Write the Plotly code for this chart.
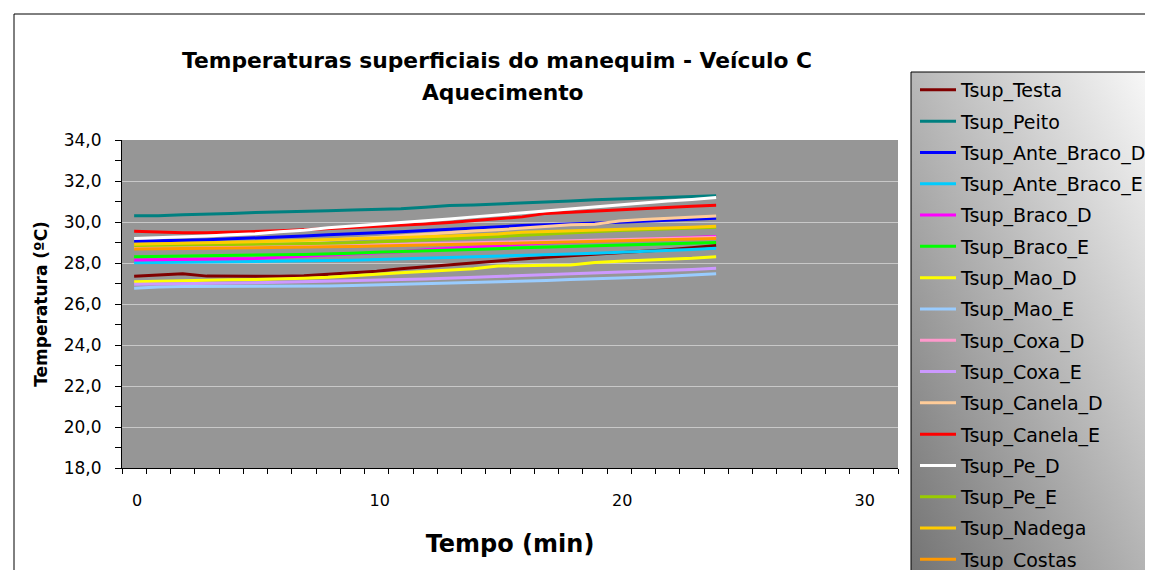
import base64
import plotly.graph_objects as go

# ---------------- data ----------------
tempo = list(range(0, 25))

tsup_testa = [27.35, 27.42, 27.48, 27.36, 27.35, 27.35, 27.35, 27.38, 27.45, 27.50, 27.60, 27.72, 27.82,
              27.92, 28.00, 28.10, 28.20, 28.28, 28.35, 28.42, 28.50, 28.58, 28.65, 28.75, 28.85]
tsup_peito = [30.31, 30.31, 30.35, 30.40, 30.42, 30.46, 30.48, 30.52, 30.55, 30.58, 30.60, 30.65, 30.72,
              30.80, 30.83, 30.87, 30.93, 30.97, 31.02, 31.08, 31.12, 31.17, 31.20, 31.24, 31.28]
tsup_ante_braco_d = [29.06, 29.08, 29.10, 29.14, 29.18, 29.22, 29.27, 29.32, 29.38, 29.42, 29.46, 29.52, 29.58,
                     29.65, 29.72, 29.78, 29.83, 29.87, 29.90, 29.94, 29.99, 30.04, 30.09, 30.13, 30.18]
tsup_ante_braco_e = [28.01, 28.02, 28.04, 28.05, 28.06, 28.07, 28.08, 28.10, 28.12, 28.14, 28.17, 28.20, 28.23,
                     28.27, 28.31, 28.35, 28.38, 28.41, 28.44, 28.48, 28.52, 28.56, 28.60, 28.66, 28.72]
tsup_braco_d = [28.15, 28.16, 28.18, 28.19, 28.20, 28.22, 28.28, 28.33, 28.38, 28.43, 28.48, 28.55, 28.65,
                28.73, 28.78, 28.85, 28.92, 28.97, 29.02, 29.07, 29.12, 29.16, 29.20, 29.25, 29.29]
tsup_braco_e = [28.31, 28.32, 28.33, 28.34, 28.35, 28.38, 28.40, 28.42, 28.44, 28.48, 28.52, 28.55, 28.58,
                28.62, 28.66, 28.70, 28.74, 28.77, 28.80, 28.84, 28.88, 28.90, 28.93, 28.96, 29.00]
tsup_mao_d = [27.09, 27.12, 27.14, 27.16, 27.18, 27.20, 27.22, 27.26, 27.30, 27.36, 27.45, 27.52, 27.58,
              27.65, 27.72, 27.85, 27.88, 27.89, 27.90, 28.03, 28.08, 28.12, 28.17, 28.23, 28.31]
tsup_mao_e = [26.77, 26.83, 26.85, 26.85, 26.86, 26.86, 26.86, 26.87, 26.88, 26.90, 26.93, 26.96, 26.98,
              27.00, 27.04, 27.08, 27.10, 27.15, 27.19, 27.22, 27.26, 27.30, 27.35, 27.42, 27.48]
tsup_coxa_d = [28.76, 28.77, 28.78, 28.79, 28.80, 28.82, 28.83, 28.84, 28.86, 28.88, 28.90, 28.92, 28.93,
               28.95, 28.97, 29.00, 29.03, 29.06, 29.09, 29.12, 29.15, 29.18, 29.20, 29.23, 29.26]
tsup_coxa_e = [26.96, 26.97, 26.98, 27.00, 27.02, 27.04, 27.06, 27.08, 27.10, 27.13, 27.16, 27.19, 27.22,
               27.26, 27.30, 27.35, 27.40, 27.43, 27.46, 27.50, 27.53, 27.57, 27.62, 27.68, 27.74]
tsup_canela_d = [28.83, 28.85, 28.87, 28.90, 28.93, 28.96, 29.00, 29.05, 29.10, 29.18, 29.25, 29.33, 29.42,
                 29.50, 29.56, 29.62, 29.70, 29.78, 29.86, 29.89, 30.05, 30.12, 30.18, 30.24, 30.29]
tsup_canela_e = [29.55, 29.50, 29.48, 29.48, 29.50, 29.53, 29.57, 29.62, 29.67, 29.72, 29.78, 29.84, 29.90,
                 29.98, 30.08, 30.18, 30.25, 30.42, 30.48, 30.55, 30.62, 30.67, 30.72, 30.77, 30.82]
tsup_pe_d = [29.20, 29.23, 29.27, 29.32, 29.38, 29.43, 29.52, 29.60, 29.72, 29.80, 29.88, 29.97, 30.05,
             30.15, 30.25, 30.35, 30.45, 30.55, 30.65, 30.73, 30.82, 30.92, 31.02, 31.10, 31.20]
tsup_pe_e = [28.85, 28.86, 28.87, 28.88, 28.89, 28.90, 28.92, 28.94, 28.96, 28.99, 29.02, 29.07, 29.12,
             29.18, 29.24, 29.30, 29.36, 29.42, 29.48, 29.53, 29.58, 29.62, 29.66, 29.70, 29.74]
tsup_nadega = [28.91, 28.93, 28.95, 28.97, 29.00, 29.04, 29.07, 29.10, 29.14, 29.18, 29.22, 29.25, 29.28,
               29.32, 29.36, 29.42, 29.50, 29.53, 29.56, 29.59, 29.62, 29.66, 29.70, 29.74, 29.79]
tsup_costas = [28.68, 28.69, 28.70, 28.71, 28.73, 28.75, 28.76, 28.77, 28.79, 28.81, 28.83, 28.85, 28.86,
               28.88, 28.90, 28.93, 28.97, 29.00, 29.03, 29.07, 29.10, 29.13, 29.15, 29.18, 29.20]

series_names = ["Tsup_Testa", "Tsup_Peito", "Tsup_Ante_Braco_D", "Tsup_Ante_Braco_E", "Tsup_Braco_D",
                "Tsup_Braco_E", "Tsup_Mao_D", "Tsup_Mao_E", "Tsup_Coxa_D", "Tsup_Coxa_E", "Tsup_Canela_D",
                "Tsup_Canela_E", "Tsup_Pe_D", "Tsup_Pe_E", "Tsup_Nadega", "Tsup_Costas"]
series_values = [tsup_testa, tsup_peito, tsup_ante_braco_d, tsup_ante_braco_e, tsup_braco_d, tsup_braco_e,
                 tsup_mao_d, tsup_mao_e, tsup_coxa_d, tsup_coxa_e, tsup_canela_d, tsup_canela_e, tsup_pe_d,
                 tsup_pe_e, tsup_nadega, tsup_costas]
series_colors = ["#800000", "#008080", "#0000FF", "#00CCFF", "#FF00FF", "#00FF00", "#FFFF00", "#99CCFF",
                 "#FF99CC", "#CC99FF", "#FFCC99", "#FF0000", "#FFFFFF", "#99CC00", "#FFCC00", "#FF9900"]

x_tick_values = [0, 10, 20, 30]
y_range = [18, 34]

title_line1 = "Temperaturas superficiais do manequim - Veículo C"
title_line2 = "Aquecimento"
x_title = "Tempo (min)"
y_title = "Temperatura (ºC)"

# ---------------- layout geometry (page pixels) ----------------
OFF = 8                      # default page body margin
W, H = 1153 - OFF, 570 - OFF  # figure size so the page has no scrollbars
L, R, T, B = 122, 898, 140, 468   # plot area in page pixels


def px(x):
    return (x - L) / (R - L)


def py(y):
    return (B - y) / (B - T)


FONT = "DejaVu Sans"

fig = go.Figure()
for name, vals, col in zip(series_names, series_values, series_colors):
    fig.add_trace(go.Scatter(x=tempo, y=vals, mode="lines", name=name, legendgroup=name,
                             line=dict(color=col, width=3)))

# gradient background for legend
svg = ('<svg xmlns="http://www.w3.org/2000/svg" width="100" height="100" preserveAspectRatio="none">'
       '<defs><linearGradient id="g" x1="0" y1="1" x2="1" y2="0">'
       '<stop offset="0" stop-color="#707070"/><stop offset="1" stop-color="#ffffff"/>'
       '</linearGradient></defs><rect width="100" height="100" fill="url(#g)"/></svg>')
svg_uri = "data:image/svg+xml;base64," + base64.b64encode(svg.encode()).decode()

LG_X0, LG_Y0, LG_X1, LG_Y1 = 911, 72, 1175, 600

fig.update_layout(
    width=W, height=H,
    margin=dict(l=L - OFF, r=W - (R - OFF), t=T - OFF, b=H - (B - OFF), pad=0, autoexpand=False),
    paper_bgcolor="white",
    plot_bgcolor="#969696",
    separators=",.",
    font=dict(family=FONT, color="black"),
    showlegend=True,
    legend=dict(x=px(LG_X0 + 4), y=py(LG_Y0 - 1), xanchor="left", yanchor="top",
                bgcolor="rgba(0,0,0,0)", borderwidth=0, maxheight=700,
                font=dict(family=FONT, size=19, color="black"),
                tracegroupgap=3.6, itemwidth=36, traceorder="grouped"),
    xaxis=dict(range=[-0.5, 31.5], tickmode="array", tickvals=x_tick_values,
               ticks="", showline=True, linecolor="black", linewidth=1,
               showgrid=False, zeroline=False,
               tickfont=dict(family=FONT, size=16, color="black"),
               ticklabelstandoff=18, ticklabelshift=3,
               minor=dict(tickmode="linear", tick0=-0.5, dtick=1, ticks="outside",
                          ticklen=5, tickcolor="black", tickwidth=1, showgrid=False),
               title=dict(text="<b>%s</b>" % x_title, font=dict(family=FONT, size=24, color="black"),
                          standoff=25)),
    yaxis=dict(range=y_range, tickmode="linear", tick0=18, dtick=2, tickformat=".1f",
               ticks="outside", ticklen=6, tickcolor="black", showline=True, linecolor="black",
               linewidth=1, showgrid=True, gridcolor="#C8C8C8", gridwidth=1, zeroline=False,
               tickfont=dict(family=FONT, size=17, color="black"),
               ticklabelstandoff=10,
               minor=dict(tickmode="linear", tick0=18, dtick=1, ticks="outside", ticklen=6,
                          tickcolor="black", tickwidth=1, showgrid=False),
               title=dict(text="<b>%s</b>" % y_title, font=dict(family=FONT, size=17, color="black"),
                          standoff=11)),
    images=[dict(source=svg_uri, xref="paper", yref="paper", x=px(LG_X0), y=py(LG_Y0),
                 sizex=px(LG_X1) - px(LG_X0), sizey=py(LG_Y0) - py(LG_Y1),
                 xanchor="left", yanchor="top", sizing="stretch", layer="above")],
    shapes=[
        dict(type="rect", xref="paper", yref="paper", x0=px(14), x1=px(1200), y0=py(620), y1=py(14),
             line=dict(color="black", width=1), fillcolor="rgba(0,0,0,0)", layer="below"),
        dict(type="rect", xref="paper", yref="paper", x0=px(LG_X0), x1=px(LG_X1), y0=py(LG_Y1), y1=py(LG_Y0),
             line=dict(color="black", width=1), fillcolor="rgba(0,0,0,0)", layer="above"),
    ],
    annotations=[
        dict(text="<b>%s</b>" % title_line1, xref="paper", yref="paper", x=px(497), y=py(60),
             xanchor="center", yanchor="middle", showarrow=False,
             font=dict(family=FONT, size=21.8, color="black")),
        dict(text="<b>%s</b>" % title_line2, xref="paper", yref="paper", x=px(503), y=py(92),
             xanchor="center", yanchor="middle", showarrow=False,
             font=dict(family=FONT, size=21.8, color="black")),
    ],
)

fig.write_html("out.html")
